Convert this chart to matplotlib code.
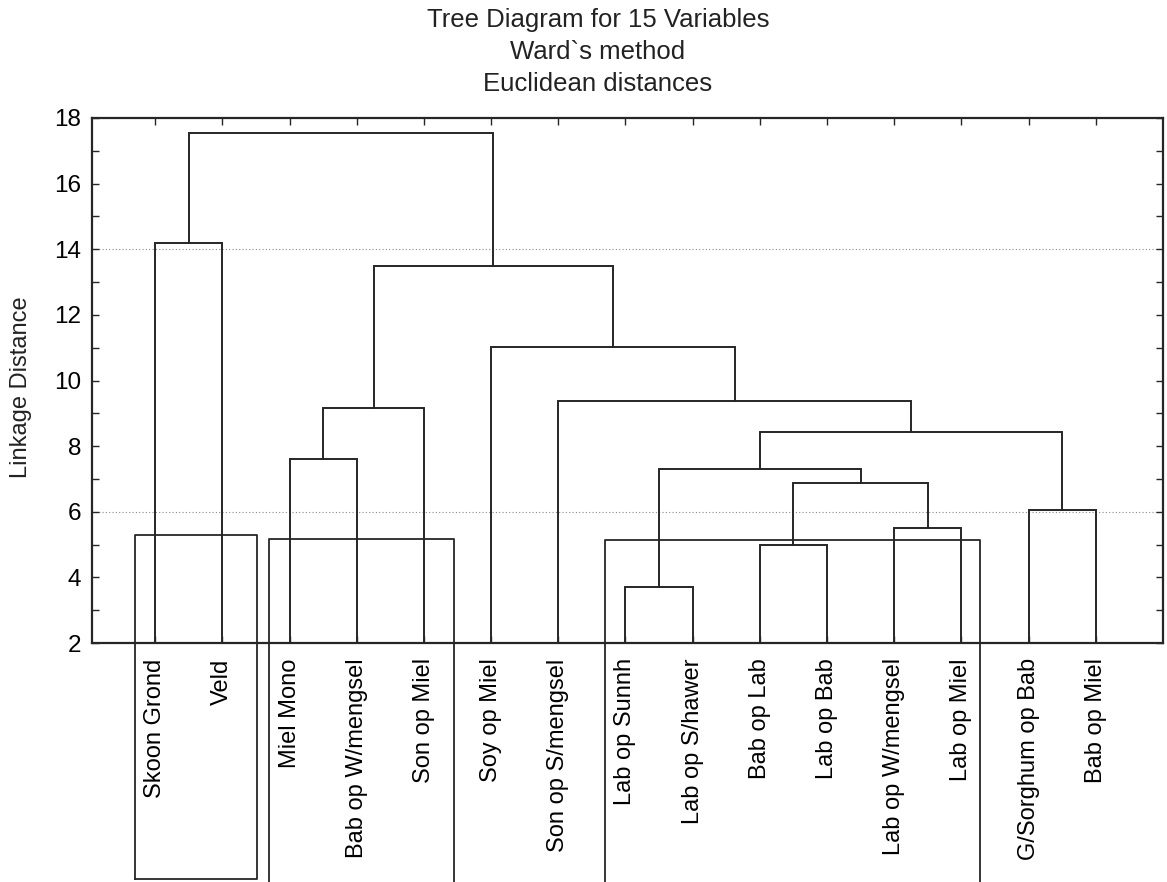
import matplotlib
matplotlib.use("Agg")
import matplotlib.pyplot as plt

plt.rcParams['font.family'] = ['Liberation Sans', 'DejaVu Sans']

# leaf labels, left to right as in the tree
labels = ["Skoon Grond", "Veld", "Miel Mono", "Bab op W/mengsel", "Son op Miel",
          "Soy op Miel", "Son op S/mengsel", "Lab op Sunnh", "Lab op S/hawer",
          "Bab op Lab", "Lab op Bab", "Lab op W/mengsel", "Lab op Miel",
          "G/Sorghum op Bab", "Bab op Miel"]

# merges: node ids 0..14 are leaves, new clusters get ids 15, 16, ...
merge_left = [7, 9, 11, 13, 16, 15, 2, 20, 21, 6, 5, 23, 0, 27]
merge_right = [8, 10, 12, 14, 17, 19, 3, 18, 4, 22, 24, 25, 1, 26]
merge_height = [3.72, 4.99, 5.50, 6.05, 6.87, 7.30, 7.61, 8.44, 9.16, 9.39,
                11.02, 13.50, 14.19, 17.55]

# hand drawn boxes on the printout: first leaf, last leaf, top of box
box_first = [0, 2, 7]
box_last = [1, 4, 12]
box_top = [5.29, 5.17, 5.14]

title_lines = ["Tree Diagram for 15 Variables", "Ward`s method", "Euclidean distances"]

ymin, ymax = 2, 18
ink = '#262626'

fig = plt.figure(figsize=(11.67, 8.82), dpi=100)
ax = fig.add_axes([92 / 1167, 1 - 643 / 882, 1071 / 1167, 525 / 882])

# node positions / heights
xpos = [i + 1.0 for i in range(len(labels))]
hpos = [float(ymin)] * len(labels)
for a, b, h in zip(merge_left, merge_right, merge_height):
    ax.plot([xpos[a], xpos[a], xpos[b], xpos[b]], [hpos[a], h, h, hpos[b]],
            color=ink, lw=1.4, solid_joinstyle='miter', zorder=3)
    xpos.append((xpos[a] + xpos[b]) / 2)
    hpos.append(h)

for g in [6, 14]:
    ax.axhline(g, color='#8a8a8a', lw=0.8, ls=(0, (1, 2)), zorder=1)

# boxes extend below the axes
y_low = ymin - (879 - 643) / (525 / (ymax - ymin))
y_edge = ymin - (882 - 643) / (525 / (ymax - ymin))
for k, (f, l, t) in enumerate(zip(box_first, box_last, box_top)):
    x0 = f + 1 - 0.30
    x1 = l + 1 + (0.52 if k == 0 else 0.45 if k == 1 else 0.28)
    if k == 0:
        xs, ys = [x0, x0, x1, x1, x0], [y_low, t, t, y_low, y_low]
    else:
        xs, ys = [x0, x0, x1, x1], [y_edge, t, t, y_edge]
    ax.plot(xs, ys, color=ink, lw=1.3, clip_on=False, zorder=4)

ax.set_xlim(0.06, 16)
ax.set_ylim(ymin, ymax)
ax.set_yticks(range(ymin, ymax + 1, 2))
ax.set_yticks(range(ymin + 1, ymax, 2), minor=True)
ax.set_xticks(range(1, len(labels) + 1))
ax.set_xticklabels(labels, rotation=90, fontsize=17, va='top', ha='center')
ax.tick_params(axis='x', which='both', direction='in', top=True, bottom=True,
               length=5, width=1, color=ink, pad=11)
ax.tick_params(axis='y', which='both', direction='in', left=True, right=True,
               length=5, width=1, color=ink, pad=8, labelsize=17.5)
for s in ax.spines.values():
    s.set_linewidth(1.6)
    s.set_color(ink)

fig.text(21 / 1167, 1 - 387 / 882, "Linkage Distance", rotation=90, fontsize=17,
         ha='center', va='center', color='#222222')
for i, line in enumerate(title_lines):
    fig.text(598 / 1167, 1 - (20 + 32 * i) / 882, line, fontsize=18.5,
             ha='center', va='center', color='#222222')

fig.savefig("out.png", dpi=100)
